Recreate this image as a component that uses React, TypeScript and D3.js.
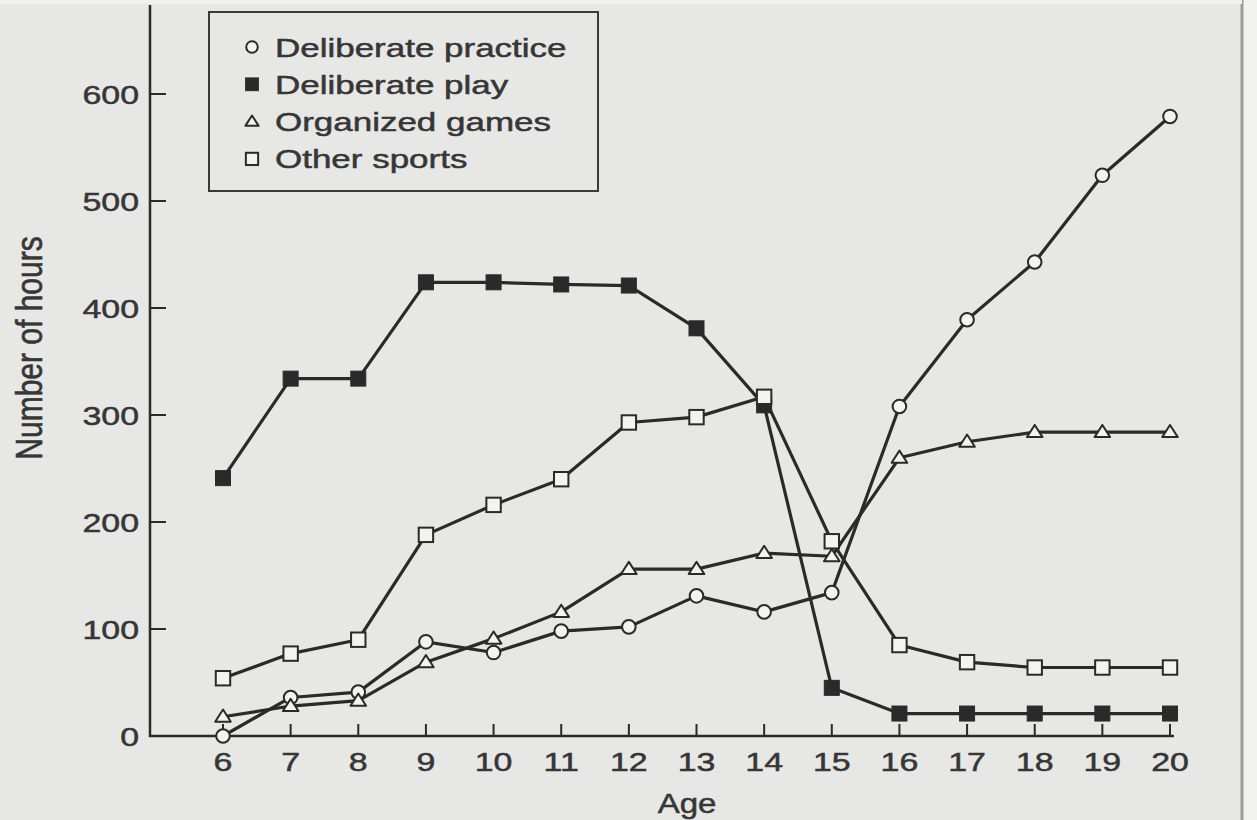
import React from "react";
import * as d3 from "d3";

const ages = [6, 7, 8, 9, 10, 11, 12, 13, 14, 15, 16, 17, 18, 19, 20];
const deliberatePractice = [0, 36, 41, 88, 78, 98, 102, 131, 116, 134, 308, 389, 443, 524, 579];
const deliberatePlay = [241, 334, 334, 424, 424, 422, 421, 381, 309, 45, 21, 21, 21, 21, 21];
const organizedGames = [18, 28, 33, 69, 91, 116, 156, 156, 171, 168, 260, 275, 284, 284, 284];
const otherSports = [54, 77, 90, 188, 216, 240, 293, 298, 317, 182, 85, 69, 64, 64, 64];
const yTicks = [0, 100, 200, 300, 400, 500, 600];
const seriesNames = ["Deliberate practice", "Deliberate play", "Organized games", "Other sports"];
const seriesKinds = ["circle", "filledSquare", "triangle", "openSquare"];
const seriesValues = [deliberatePractice, deliberatePlay, organizedGames, otherSports];

const W = 1257;
const H = 820;
const BG = "#e7e7e5";
const INK = "#2a2a2a";
const TXT = "#363636";
const OPEN = "#f3f3f1";
const FONT = "'Liberation Sans', Arial, Helvetica, sans-serif";

function Marker({ kind, x, y, s = 1 }: { kind: string; x: number; y: number; s?: number }) {
  if (kind === "circle") {
    return <circle cx={x} cy={y} r={6.8 * s} fill={OPEN} stroke={INK} strokeWidth={2} />;
  }
  if (kind === "filledSquare") {
    const h = 7.5 * s;
    return <rect x={x - h} y={y - h} width={2 * h} height={2 * h} fill={INK} stroke={INK} strokeWidth={1} />;
  }
  if (kind === "openSquare") {
    const h = 7.2 * s;
    return <rect x={x - h} y={y - h} width={2 * h} height={2 * h} fill={OPEN} stroke={INK} strokeWidth={2} />;
  }
  const w = 7.8 * s;
  const up = 7.2 * s;
  const dn = 5 * s;
  return (
    <path
      d={`M${x},${y - up}L${x + w},${y + dn}L${x - w},${y + dn}Z`}
      fill={OPEN}
      stroke={INK}
      strokeWidth={2}
      strokeLinejoin="round"
    />
  );
}

export default function App() {
  const x = d3.scaleLinear().domain([6, 20]).range([223, 1170]);
  const y = d3.scaleLinear().domain([0, 600]).range([736, 94]);
  const line = d3
    .line<number>()
    .x((_, i) => x(ages[i]))
    .y((d) => y(d));

  const axisX0 = 150;
  const sx = 1.28;
  const textProps = { fontFamily: FONT, fill: TXT, stroke: TXT, strokeWidth: 0.5 };

  return (
    <svg width={W} height={H} style={{ display: "block", position: "absolute", left: 0, top: 0 }}>
      <rect x={0} y={0} width={W} height={H} fill={BG} />
      <rect x={1243} y={0} width={W - 1243} height={H} fill="#f2f2f0" />
      <line x1={1242} x2={1242} y1={0} y2={H} stroke="#9a9a98" strokeWidth={3} />
      <rect x={0} y={0} width={1242} height={4} fill="#f0f0ee" />

      {/* axes */}
      <line x1={axisX0} x2={axisX0} y1={5} y2={737} stroke={INK} strokeWidth={2.5} />
      <line x1={axisX0 - 1} x2={1174} y1={736} y2={736} stroke={INK} strokeWidth={2.5} />
      {yTicks.map((t) => (
        <g key={"yt" + t}>
          <line x1={axisX0} x2={axisX0 + 16} y1={y(t)} y2={y(t)} stroke={INK} strokeWidth={2} />
          <text
            transform={`translate(139,${y(t) + 9.5}) scale(${sx},1)`}
            textAnchor="end"
            fontSize={26.5}
            {...textProps}
          >
            {t}
          </text>
        </g>
      ))}
      {ages.map((a) => (
        <g key={"xt" + a}>
          <line x1={x(a)} x2={x(a)} y1={736} y2={724} stroke={INK} strokeWidth={2} />
          <text
            transform={`translate(${x(a)},771) scale(${sx},1)`}
            textAnchor="middle"
            fontSize={26.5}
            {...textProps}
          >
            {a}
          </text>
        </g>
      ))}
      <text
        transform={`translate(687,813) scale(1.2,1)`}
        textAnchor="middle"
        fontSize={27.5}
        {...textProps}
      >
        Age
      </text>
      <text
        transform={`translate(30,348) rotate(-90) scale(1,1.22)`}
        y={10}
        textAnchor="middle"
        fontSize={30}
        {...textProps}
      >
        Number of hours
      </text>

      {/* series */}
      {seriesValues.map((vals, si) => (
        <path key={"l" + si} d={line(vals) || ""} fill="none" stroke={INK} strokeWidth={3.2} strokeLinejoin="round" />
      ))}
      {seriesValues.map((vals, si) => (
        <g key={"m" + si}>
          {vals.map((v, i) => (
            <Marker key={i} kind={seriesKinds[si]} x={x(ages[i])} y={y(v)} />
          ))}
        </g>
      ))}

      {/* legend */}
      <rect x={209} y={12} width={389} height={179} fill="none" stroke="#3a3a3a" strokeWidth={2} />
      {seriesNames.map((name, i) => {
        const cy = 47 + i * 37.3;
        return (
          <g key={"lg" + i}>
            <Marker kind={seriesKinds[i]} x={252} y={cy} s={0.85} />
            <text
              transform={`translate(275,${cy + 9.5}) scale(1.32,1)`}
              fontSize={26.5}
              {...textProps}
            >
              {name}
            </text>
          </g>
        );
      })}
    </svg>
  );
}
